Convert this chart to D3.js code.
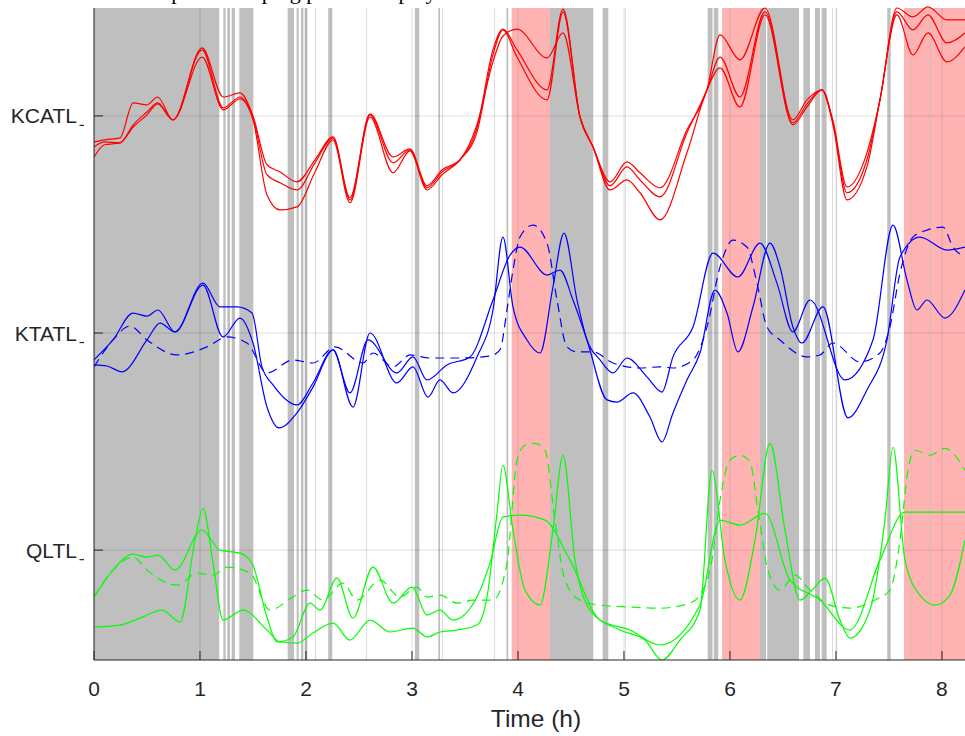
<!DOCTYPE html>
<html><head><meta charset="utf-8">
<script src="https://cdn.jsdelivr.net/npm/d3@7"></script>
<style>body{margin:0;background:#fff} svg{display:block}</style>
</head><body><div id="chart"></div>
<script>
// ---------- data ----------
const channels = ["KCATL", "KTATL", "QLTL"];
const channelOffsets = [200, 100, 0];
const hourTicks = [0, 1, 2, 3, 4, 5, 6, 7, 8];
const titleText = "Example of sleeping pattern display";

// sleep stage shading (hours)
const greyBands = [
  [0, 1.182], [1.220, 1.242], [1.258, 1.283], [1.299, 1.330], [1.371, 1.503],
  [1.827, 1.887], [1.912, 1.931], [1.953, 1.975], [1.988, 2.012], [2.085, 2.091],
  [2.210, 2.248], [2.566, 2.571], [3.028, 3.069], [3.248, 3.264], [3.283, 3.288],
  [3.774, 3.779], [3.892, 3.908], [4.302, 4.710], [4.799, 4.852], [5.009, 5.014],
  [5.790, 5.835], [5.847, 5.890], [6.283, 6.340], [6.352, 6.651], [6.692, 6.755],
  [6.802, 6.849], [6.865, 6.912], [6.965, 6.970], [7.006, 7.011], [7.484, 7.516],
  [7.713, 7.719], [7.885, 7.891]
];
const pinkBands = [[3.941, 4.302], [5.925, 6.283], [7.642, 8.34]];

// KCATL (three solid traces)
const kcatlA = [[0,-12.0],[0.10,-11.0],[0.245,-10.1],[0.37,6.0],[0.5,5.1],[0.60,8.7],[0.745,-1.8],[1.02,31.3],[1.22,8.7],[1.377,10.6],[1.5,0],[1.632,-22.5],[1.755,-25.8],[1.915,-30.4],[2.085,-20.2],[2.255,-9.7],[2.415,-37.7],[2.604,0.9],[2.821,-18.9],[2.981,-15.2],[3.142,-32.2],[3.283,-24.9],[3.453,-20.2],[3.613,-4.1],[3.764,24.9],[3.858,36.8],[3.991,40.0],[4.274,26.7],[4.425,38.2],[4.585,-0.5],[4.708,-14.3],[4.868,-30.4],[5.028,-21.2],[5.151,-26.2],[5.34,-33.1],[5.594,-6.4],[5.783,12.0],[5.906,37.3],[6.094,25.8],[6.33,49.7],[6.594,-1.8],[6.726,7.4],[6.868,12.0],[6.972,-2.3],[7.104,-32.7],[7.292,-17.0],[7.415,7.4],[7.575,49.7],[7.726,45.6],[7.868,50.2],[8.047,44.2],[8.217,44.2]];
const kcatlB = [[0,-14.3],[0.10,-12.0],[0.245,-12.4],[0.37,-4.1],[0.5,1.8],[0.60,6.0],[0.745,-1.8],[1.02,30.4],[1.22,3.7],[1.377,8.7],[1.5,-0.9],[1.632,-27.1],[1.755,-30.8],[1.915,-34.1],[2.085,-21.6],[2.255,-10.1],[2.415,-38.7],[2.604,0.5],[2.821,-21.6],[2.981,-15.6],[3.142,-33.1],[3.283,-25.8],[3.453,-20.2],[3.613,-5.5],[3.764,30.4],[3.858,40.0],[3.991,30.4],[4.274,12.0],[4.425,49.2],[4.585,-0.5],[4.708,-14.3],[4.868,-32.2],[5.028,-23.5],[5.151,-29.5],[5.34,-37.3],[5.594,-7.8],[5.783,12.0],[5.906,27.1],[6.094,8.7],[6.33,47.9],[6.594,-3.2],[6.726,5.5],[6.868,12.0],[6.972,-3.2],[7.104,-35.4],[7.292,-20.2],[7.415,7.4],[7.575,47.9],[7.726,39.6],[7.868,46.5],[8.047,33.6],[8.217,38.2]];
const kcatlC = [[0,-18.9],[0.10,-13.3],[0.245,-12.4],[0.37,-5.1],[0.5,0.5],[0.60,5.5],[0.745,-1.8],[1.02,27.1],[1.22,2.8],[1.377,7.8],[1.5,-1.8],[1.632,-36.4],[1.755,-43.3],[1.915,-41.9],[2.085,-25.8],[2.255,-11.0],[2.415,-40.0],[2.604,-0.5],[2.821,-26.2],[2.981,-16.1],[3.142,-34.1],[3.283,-27.1],[3.453,-20.2],[3.613,-7.4],[3.764,28.1],[3.858,39.6],[3.991,27.1],[4.274,7.4],[4.425,47.9],[4.585,-0.5],[4.708,-14.3],[4.868,-34.1],[5.028,-29.5],[5.151,-35.4],[5.34,-47.9],[5.594,-17.0],[5.783,12.0],[5.906,22.1],[6.094,4.1],[6.33,46.5],[6.594,-4.1],[6.726,4.1],[6.868,12.0],[6.972,-4.1],[7.104,-38.7],[7.292,-23.5],[7.415,7.4],[7.575,46.5],[7.726,28.1],[7.868,38.2],[8.047,24.9],[8.217,31.8]];

// KTATL (two solid, one dashed)
const ktatlA = [[0,-12.4],[0.179,-3.2],[0.368,9.2],[0.5,7.8],[0.604,10.6],[0.764,0.5],[1.028,23.0],[1.189,12.0],[1.349,12.0],[1.491,9.2],[1.585,-15.6],[1.689,-23.9],[1.915,-33.1],[2.066,-23.0],[2.255,-7.8],[2.443,-34.1],[2.604,0],[2.858,-23.0],[3.009,-15.6],[3.151,-29.5],[3.264,-21.6],[3.387,-27.6],[3.613,-11.0],[3.764,10.6],[3.858,44.2],[3.953,12.0],[4.085,-3.2],[4.208,-9.2],[4.330,21.2],[4.434,46.0],[4.557,15.2],[4.651,-3.2],[4.774,-12.4],[4.896,-18.4],[5.028,-11.5],[5.217,-20.2],[5.358,-27.2],[5.462,-11.0],[5.651,2.8],[5.840,36.8],[6.075,25.8],[6.283,41.4],[6.443,23.0],[6.594,0.5],[6.755,15.2],[7.085,-21.6],[7.349,-3.2],[7.538,49.7],[7.670,24.4],[7.764,10.6],[7.858,15.2],[8.028,6.9],[8.217,19.8]];
const ktatlB = [[0,-14.7],[0.123,-15.2],[0.264,-17.9],[0.5,-3.2],[0.623,4.6],[0.764,0.5],[1.028,22.1],[1.217,-1.8],[1.377,6.9],[1.5,-4.6],[1.632,-34.1],[1.745,-43.7],[1.915,-36.8],[2.066,-24.9],[2.255,-7.8],[2.415,-27.6],[2.585,-3.2],[2.858,-18.4],[3.009,-11.0],[3.142,-21.6],[3.330,-14.7],[3.547,-11.0],[3.764,15.2],[3.925,35.9],[4.019,39.6],[4.274,26.7],[4.396,29.0],[4.519,15.2],[4.651,-3.2],[4.840,-30.8],[4.934,-31.8],[5.085,-27.6],[5.245,-38.7],[5.358,-50.2],[5.462,-36.8],[5.594,-21.6],[5.717,-9.2],[5.858,19.8],[5.972,9.2],[6.075,-8.7],[6.217,12.0],[6.377,41.4],[6.472,30.4],[6.594,2.8],[6.679,-4.6],[6.877,12.0],[7.113,-39.1],[7.292,-26.2],[7.481,-3.2],[7.604,35.0],[7.792,44.2],[8.047,38.2],[8.217,39.6]];
const ktatlMean = [[0,-15.6],[0.179,-3.2],[0.340,3.2],[0.5,-3.2],[0.783,-10.1],[1.066,-6.4],[1.255,-1.8],[1.443,-4.6],[1.632,-18.4],[1.877,-12.4],[2.066,-13.8],[2.274,-6.4],[2.538,-13.8],[2.632,-9.2],[2.821,-15.6],[2.981,-10.1],[3.170,-11.5],[3.453,-11.5],[3.736,-10.6],[3.830,-7.8],[3.896,10.6],[3.953,29.0],[4.019,44.2],[4.142,49.7],[4.274,41.4],[4.368,15.2],[4.462,-6.4],[4.557,-8.7],[4.708,-8.7],[4.896,-13.8],[5.151,-16.1],[5.340,-15.6],[5.462,-16.1],[5.651,-12.4],[5.783,2.8],[5.906,30.4],[6.028,42.8],[6.160,39.6],[6.255,23.0],[6.349,2.8],[6.472,-3.2],[6.726,-11.0],[6.849,-10.1],[6.972,-4.6],[7.226,-13.3],[7.415,-9.2],[7.509,2.8],[7.604,27.6],[7.726,44.2],[7.858,47.4],[8.009,48.8],[8.104,39.6],[8.217,35.0]];

// QLTL (two solid, one dashed)
const qltlA = [[0,-21.6],[0.179,-9.2],[0.368,-1.8],[0.5,-3.2],[0.604,-2.3],[0.764,-9.2],[1.019,9.2],[1.189,0],[1.377,-1.4],[1.491,-6.0],[1.632,-30.9],[1.726,-42.3],[1.877,-40.0],[2.038,-24.4],[2.132,-27.6],[2.292,-12.9],[2.443,-31.3],[2.632,-7.8],[2.821,-24.4],[3.0,-17.0],[3.142,-29.9],[3.264,-27.6],[3.387,-32.2],[3.613,-21.6],[3.736,-6.0],[3.858,15.2],[4.019,16.1],[4.255,13.8],[4.491,-4.6],[4.774,-32.2],[5.057,-36.8],[5.340,-43.7],[5.717,-25.3],[5.906,13.8],[6.094,11.5],[6.330,17.0],[6.566,-13.8],[6.849,-23.0],[7.132,-36.8],[7.415,-4.6],[7.651,17.5],[8.217,17.5]];
const qltlB = [[0,-35.4],[0.245,-34.5],[0.434,-31.3],[0.642,-27.6],[0.811,-33.1],[0.953,4.6],[1.028,19.3],[1.123,-6.0],[1.217,-32.2],[1.406,-27.6],[1.632,-36.8],[1.755,-42.3],[1.915,-42.8],[2.066,-38.2],[2.255,-33.6],[2.415,-41.4],[2.604,-32.2],[2.792,-37.7],[3.009,-35.9],[3.142,-40.0],[3.264,-37.7],[3.425,-36.8],[3.613,-34.5],[3.708,-21.6],[3.802,17.0],[3.858,39.1],[3.953,9.2],[4.066,-18.4],[4.208,-25.3],[4.330,9.2],[4.425,43.7],[4.538,-4.6],[4.679,-27.6],[4.962,-36.8],[5.198,-41.4],[5.358,-50.6],[5.528,-41.4],[5.717,-27.6],[5.830,36.8],[5.953,-4.6],[6.094,-23.0],[6.236,4.6],[6.377,49.2],[6.519,9.2],[6.660,-23.0],[6.774,-18.4],[6.896,-12.9],[7.038,-32.2],[7.132,-40.5],[7.321,-27.6],[7.462,13.8],[7.538,47.4],[7.651,-4.6],[7.792,-20.7],[7.934,-25.3],[8.075,-20.7],[8.217,4.6]];
const qltlMean = [[0,-21.6],[0.179,-9.2],[0.368,-3.2],[0.5,-9.2],[0.783,-16.1],[0.972,-10.6],[1.123,-11.5],[1.255,-7.8],[1.472,-10.6],[1.660,-27.6],[1.877,-21.6],[2.009,-18.4],[2.160,-23.0],[2.349,-15.2],[2.481,-23.0],[2.698,-13.8],[2.887,-21.6],[3.047,-17.0],[3.142,-21.6],[3.264,-20.7],[3.425,-24.4],[3.575,-23.0],[3.764,-23.0],[3.896,-6.0],[3.991,41.4],[4.066,48.3],[4.160,49.2],[4.255,46.0],[4.349,13.8],[4.443,-13.8],[4.585,-23.0],[4.774,-25.3],[5.057,-26.2],[5.340,-26.7],[5.623,-24.4],[5.717,-20.7],[5.830,-4.6],[5.906,23.0],[6.0,41.4],[6.094,43.7],[6.189,40.5],[6.264,18.4],[6.358,-9.2],[6.472,-18.4],[6.613,-11.5],[6.755,-18.4],[6.943,-25.3],[7.132,-26.7],[7.368,-23.0],[7.509,-18.4],[7.604,4.6],[7.679,36.8],[7.745,46.0],[7.887,43.7],[8.028,46.9],[8.217,36.8]];

const series = [
  {data: kcatlA, ch: 0, color: "#ff0000", dash: null},
  {data: kcatlB, ch: 0, color: "#ff0000", dash: null},
  {data: kcatlC, ch: 0, color: "#ff0000", dash: null},
  {data: ktatlMean, ch: 1, color: "#0000ff", dash: "9,6"},
  {data: ktatlA, ch: 1, color: "#0000ff", dash: null},
  {data: ktatlB, ch: 1, color: "#0000ff", dash: null},
  {data: qltlMean, ch: 2, color: "#00ff00", dash: "9,6"},
  {data: qltlA, ch: 2, color: "#00ff00", dash: null},
  {data: qltlB, ch: 2, color: "#00ff00", dash: null}
];

// ---------- drawing ----------
(function () {
  const W = 965, H = 736;
  const mL = 94, mR = 978, mT = 8, mB = 660;
  const svg = d3.select("#chart").append("svg").attr("width", W).attr("height", H);

  const x = d3.scaleLinear().domain([0, 8.34]).range([mL, mR]);
  const y = d3.scaleLinear().domain([-50.6, 249.7]).range([mB, mT]);

  svg.append("defs").append("clipPath").attr("id", "clip")
    .append("rect").attr("x", mL).attr("y", 0).attr("width", mR - mL).attr("height", mB);

  const plot = svg.append("g").attr("clip-path", "url(#clip)");

  plot.selectAll("rect.pink").data(pinkBands).join("rect")
    .attr("class", "pink")
    .attr("x", d => x(d[0])).attr("width", d => x(d[1]) - x(d[0]))
    .attr("y", mT).attr("height", mB - mT)
    .attr("fill", "#ffb3b3");
  plot.selectAll("rect.grey").data(greyBands).join("rect")
    .attr("class", "grey")
    .attr("x", d => x(d[0])).attr("width", d => x(d[1]) - x(d[0]))
    .attr("y", mT).attr("height", mB - mT)
    .attr("fill", "#bfbfbf");

  plot.selectAll("line.vg").data(hourTicks).join("line")
    .attr("class", "vg")
    .attr("x1", d => x(d)).attr("x2", d => x(d)).attr("y1", mT).attr("y2", mB)
    .attr("stroke", "#262626").attr("stroke-opacity", 0.15).attr("stroke-width", 1);
  plot.selectAll("line.hg").data(channelOffsets).join("line")
    .attr("class", "hg")
    .attr("x1", mL).attr("x2", mR).attr("y1", d => y(d)).attr("y2", d => y(d))
    .attr("stroke", "#262626").attr("stroke-opacity", 0.15).attr("stroke-width", 1);

  const line = d3.line().curve(d3.curveMonotoneX);
  plot.selectAll("path.trace").data(series).join("path")
    .attr("class", "trace")
    .attr("d", s => line(s.data.map(p => [x(p[0]), y(p[1] + channelOffsets[s.ch])])))
    .attr("fill", "none")
    .attr("stroke", s => s.color)
    .attr("stroke-width", 1.2)
    .attr("stroke-dasharray", s => s.dash);

  const font = "'Liberation Sans', Arial, Helvetica, sans-serif";
  const axisColor = "#262626";
  svg.append("line").attr("x1", mL).attr("x2", mR).attr("y1", mB).attr("y2", mB)
    .attr("stroke", axisColor).attr("stroke-width", 1);
  svg.append("line").attr("x1", mL).attr("x2", mL).attr("y1", mT).attr("y2", mB)
    .attr("stroke", axisColor).attr("stroke-width", 1);

  svg.selectAll("line.xt").data(hourTicks).join("line")
    .attr("class", "xt")
    .attr("x1", d => x(d)).attr("x2", d => x(d)).attr("y1", mB).attr("y2", mB - 9)
    .attr("stroke", axisColor).attr("stroke-width", 1);
  svg.selectAll("text.xl").data(hourTicks).join("text")
    .attr("class", "xl")
    .attr("x", d => x(d)).attr("y", 696)
    .attr("text-anchor", "middle").attr("font-family", font).attr("font-size", 21)
    .attr("fill", axisColor).text(d => d);

  svg.selectAll("line.yt").data(channelOffsets).join("line")
    .attr("class", "yt")
    .attr("x1", mL).attr("x2", mL + 9).attr("y1", d => y(d)).attr("y2", d => y(d))
    .attr("stroke", axisColor).attr("stroke-width", 1);
  // small outer tick marks just right of each label
  svg.selectAll("line.ym").data(channelOffsets).join("line")
    .attr("class", "ym")
    .attr("x1", 79.5).attr("x2", 84).attr("y1", d => y(d) + 9.5).attr("y2", d => y(d) + 9.5)
    .attr("stroke", axisColor).attr("stroke-width", 1.2);
  svg.selectAll("text.yl").data(channels).join("text")
    .attr("class", "yl")
    .attr("x", 77).attr("y", (d, i) => y(channelOffsets[i]) + 7.5)
    .attr("text-anchor", "end").attr("font-family", font).attr("font-size", 21)
    .attr("fill", axisColor).text(d => d);

  svg.append("text").attr("x", (mL + mR) / 2).attr("y", 727)
    .attr("text-anchor", "middle").attr("font-family", font).attr("font-size", 24.5)
    .attr("fill", axisColor).text("Time (h)");

  svg.append("text").attr("x", 120).attr("y", -1)
    .attr("font-family", "'Liberation Serif', 'Times New Roman', serif").attr("font-size", 22)
    .attr("fill", "#000").text(titleText);
})();
</script>
</body></html>
